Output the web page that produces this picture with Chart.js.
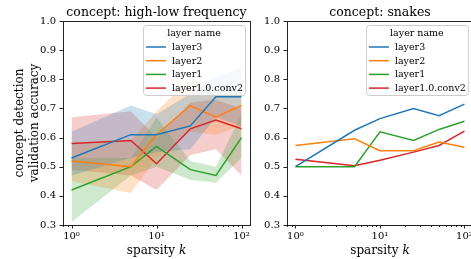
<!DOCTYPE html>
<html>
<head>
<meta charset="utf-8">
<script src="https://cdn.jsdelivr.net/npm/chart.js@4/dist/chart.umd.min.js"></script>
<style>
  html, body { margin: 0; padding: 0; background: #fff; }
  #wrap { position: relative; width: 471px; height: 259px; overflow: hidden; }
  #wrap canvas { position: absolute; top: 0; }
</style>
</head>
<body>
<div id="wrap">
  <canvas id="hlChart" width="256" height="259" style="left:0;width:256px;height:259px"></canvas>
  <canvas id="snChart" width="222" height="259" style="left:256px;width:222px;height:259px"></canvas>
</div>
<script>
// sparsity values on the x axis
var ks = [1, 5, 10, 25, 50, 100];
var layerNames = ['layer3', 'layer2', 'layer1', 'layer1.0.conv2'];

// concept: high-low frequency (mean line + shaded band)
var hlLayer3 = [0.53, 0.61, 0.61, 0.64, 0.74, 0.74];
var hlLayer3Lo = [0.47, 0.53, 0.55, 0.56, 0.67, 0.64];
var hlLayer3Hi = [0.62, 0.71, 0.68, 0.75, 0.81, 0.84];
var hlLayer2 = [0.52, 0.50, 0.61, 0.71, 0.67, 0.71];
var hlLayer2Lo = [0.45, 0.41, 0.53, 0.62, 0.61, 0.64];
var hlLayer2Hi = [0.58, 0.59, 0.69, 0.80, 0.74, 0.77];
var hlLayer1 = [0.42, 0.50, 0.57, 0.49, 0.47, 0.60];
var hlLayer1Lo = [0.31, 0.47, 0.50, 0.455, 0.445, 0.53];
var hlLayer1Hi = [0.53, 0.53, 0.67, 0.52, 0.50, 0.68];
var hlConv2 = [0.58, 0.59, 0.51, 0.63, 0.66, 0.63];
var hlConv2Lo = [0.49, 0.47, 0.42, 0.54, 0.56, 0.47];
var hlConv2Hi = [0.67, 0.69, 0.60, 0.72, 0.73, 0.70];

// concept: snakes
var snLayer3 = [0.50, 0.625, 0.665, 0.70, 0.675, 0.715];
var snLayer2 = [0.573, 0.596, 0.555, 0.555, 0.585, 0.567];
var snLayer1 = [0.50, 0.50, 0.62, 0.59, 0.628, 0.656];
var snConv2 = [0.526, 0.503, 0.522, 0.55, 0.573, 0.622];

// axis ticks
var xMajor = [1, 10, 100];
var xMajorLabels = ['10\u2070', '10\u00b9', '10\u00b2'];
var xMinor = [0.8, 0.9, 2, 3, 4, 5, 6, 7, 8, 9, 20, 30, 40, 50, 60, 70, 80, 90];
var yTicks = [0.3, 0.4, 0.5, 0.6, 0.7, 0.8, 0.9, 1.0];

var colors = ['#1f77b4', '#ff7f0e', '#2ca02c', '#d62728'];
var serif = '"DejaVu Serif", serif';

function pts(ys) {
  return ys.map(function (y, i) { return { x: ks[i], y: y }; });
}
function fade(hex, a) {
  var n = parseInt(hex.slice(1), 16);
  return 'rgba(' + (n >> 16) + ',' + ((n >> 8) & 255) + ',' + (n & 255) + ',' + a + ')';
}

function buildDatasets(lines, bands) {
  var ds = [];
  lines.forEach(function (ys, i) {
    ds.push({ label: layerNames[i], data: pts(ys), borderColor: colors[i], borderWidth: 1.5,
      pointRadius: 0, fill: false, tension: 0, order: 0 });
  });
  (bands || []).forEach(function (b, i) {
    ds.push({ label: 'lo' + i, data: pts(b[0]), borderWidth: 0, borderColor: 'transparent',
      pointRadius: 0, fill: false, order: 1 });
    ds.push({ label: 'hi' + i, data: pts(b[1]), borderWidth: 0, borderColor: 'transparent',
      pointRadius: 0, fill: '-1', backgroundColor: fade(colors[i], 0.23), order: 1 });
  });
  return ds;
}

var decor = {
  id: 'decor',
  afterDraw: function (chart, args, opts) {
    var ctx = chart.ctx, a = chart.chartArea;
    var xs = chart.scales.x, ys = chart.scales.y;
    ctx.save();
    ctx.strokeStyle = '#222';
    ctx.lineWidth = 1;
    ctx.beginPath();
    xs.ticks.forEach(function (t) {
      var px = Math.round(xs.getPixelForValue(t.value)) + 0.5;
      ctx.moveTo(px, a.bottom);
      ctx.lineTo(px, a.bottom + (t.major ? 3.5 : 2));
    });
    ys.ticks.forEach(function (t) {
      var py = Math.round(ys.getPixelForValue(t.value)) + 0.5;
      ctx.moveTo(a.left - 3.5, py);
      ctx.lineTo(a.left, py);
    });
    ctx.stroke();
    ctx.strokeRect(Math.round(a.left) + 0.5, Math.round(a.top) + 0.5,
      Math.round(a.right - a.left), Math.round(a.bottom - a.top));

    var cx = (a.left + a.right) / 2;
    ctx.fillStyle = '#000';
    ctx.textBaseline = 'alphabetic';
    ctx.textAlign = 'center';
    ctx.font = '12.5px ' + serif;
    ctx.fillText(opts.title, cx, 15.5);

    // x title with italic k
    ctx.font = '12px ' + serif;
    var w1 = ctx.measureText('sparsity ').width;
    ctx.font = 'italic 12px ' + serif;
    var w2 = ctx.measureText('k').width;
    var x0 = cx - (w1 + w2) / 2;
    ctx.textAlign = 'left';
    ctx.font = '12px ' + serif;
    ctx.fillText('sparsity ', x0, 254);
    ctx.font = 'italic 12px ' + serif;
    ctx.fillText('k', x0 + w1, 254);

    if (opts.yTitle) {
      ctx.font = '12px ' + serif;
      ctx.textAlign = 'center';
      opts.yTitle.forEach(function (line, i) {
        ctx.save();
        ctx.translate(23 + i * 14.5, (a.top + a.bottom) / 2);
        ctx.rotate(-Math.PI / 2);
        ctx.fillText(line, 0, 0);
        ctx.restore();
      });
    }

    // legend
    var bw = 102, bh = 70, bx = a.right - 5 - bw, by = a.top + 4;
    ctx.beginPath();
    if (ctx.roundRect) ctx.roundRect(bx + 0.5, by + 0.5, bw, bh, 3);
    else ctx.rect(bx + 0.5, by + 0.5, bw, bh);
    ctx.fillStyle = 'rgba(255,255,255,0.8)';
    ctx.fill();
    ctx.strokeStyle = '#cccccc';
    ctx.stroke();
    ctx.fillStyle = '#000';
    ctx.font = '9.5px ' + serif;
    ctx.textBaseline = 'middle';
    ctx.textAlign = 'center';
    ctx.fillText('layer name', bx + bw / 2, by + 8.5);
    ctx.textAlign = 'left';
    layerNames.forEach(function (name, i) {
      var y = by + 22 + i * 13.7;
      ctx.strokeStyle = colors[i];
      ctx.lineWidth = 1.5;
      ctx.beginPath();
      ctx.moveTo(bx + 3, y);
      ctx.lineTo(bx + 23, y);
      ctx.stroke();
      ctx.fillText(name, bx + 29, y + 0.5);
    });
    ctx.restore();
  }
};

function makeChart(id, datasets, title, yTitle, yWidth, padRight) {
  return new Chart(document.getElementById(id), {
    type: 'line',
    data: { datasets: datasets },
    plugins: [decor],
    options: {
      responsive: false,
      animation: false,
      devicePixelRatio: 1,
      layout: { padding: { top: 21, right: padRight, left: 0, bottom: 0 } },
      plugins: {
        legend: { display: false },
        tooltip: { enabled: false },
        decor: { title: title, yTitle: yTitle }
      },
      scales: {
        x: {
          type: 'logarithmic',
          min: Math.pow(10, -0.1),
          max: Math.pow(10, 2.1),
          grid: { display: false, drawTicks: false },
          border: { display: false },
          afterBuildTicks: function (s) {
            s.ticks = xMinor.concat(xMajor).sort(function (p, q) { return p - q; })
              .map(function (v) { return { value: v, major: xMajor.indexOf(v) >= 0 }; });
          },
          ticks: {
            autoSkip: false, maxRotation: 0, minRotation: 0, padding: 5, color: '#000',
            font: { family: serif, size: 10 },
            callback: function (v) {
              var i = xMajor.indexOf(v);
              return i >= 0 ? xMajorLabels[i] : '';
            }
          },
          afterFit: function (s) { s.height = 34; }
        },
        y: {
          min: 0.3,
          max: 1.0,
          grid: { display: false, drawTicks: false },
          border: { display: false },
          afterBuildTicks: function (s) {
            s.ticks = yTicks.map(function (v) { return { value: v }; });
          },
          ticks: {
            padding: 7, color: '#000',
            font: { family: serif, size: 10 },
            callback: function (v) { return Number(v).toFixed(1); }
          },
          afterFit: function (s) { s.width = yWidth; }
        }
      }
    }
  });
}

document.addEventListener('DOMContentLoaded', function () {
  makeChart('hlChart',
    buildDatasets([hlLayer3, hlLayer2, hlLayer1, hlConv2], [
      [hlLayer3Lo, hlLayer3Hi], [hlLayer2Lo, hlLayer2Hi],
      [hlLayer1Lo, hlLayer1Hi], [hlConv2Lo, hlConv2Hi]
    ]),
    'concept: high-low frequency', ['concept detection', 'validation accuracy'], 63, 6);
  makeChart('snChart',
    buildDatasets([snLayer3, snLayer2, snLayer1, snConv2]),
    'concept: snakes', null, 31, 4);
});
</script>
</body>
</html>
